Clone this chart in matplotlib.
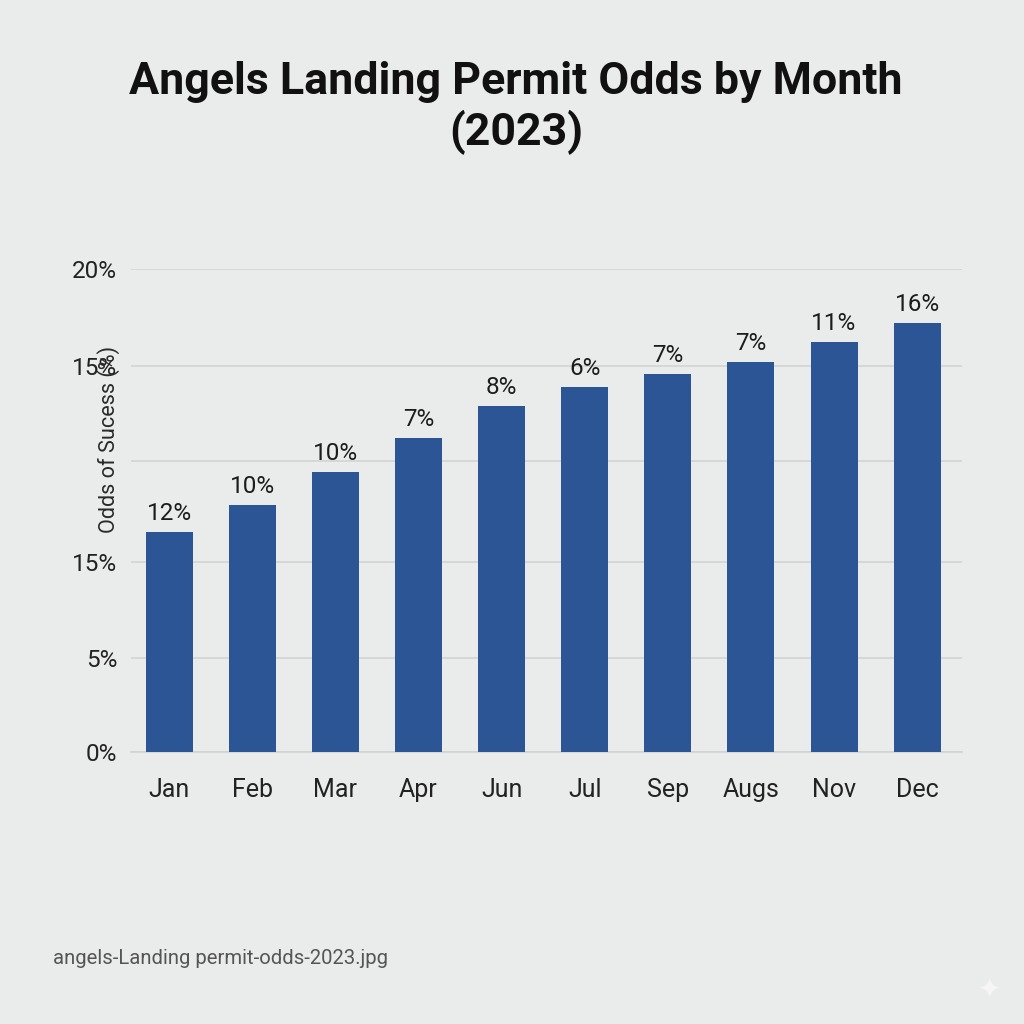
import matplotlib
matplotlib.use("Agg")
import matplotlib.pyplot as plt

months = ["Jan", "Feb", "Mar", "Apr", "Jun", "Jul", "Sep", "Augs", "Nov", "Dec"]
values = [9.11, 10.23, 11.59, 13.0, 14.33, 15.11, 15.65, 16.15, 16.97, 17.76]
bar_labels = ["12%", "10%", "10%", "7%", "8%", "6%", "7%", "7%", "11%", "16%"]
tick_values = [0, 3.9, 7.88, 12.03, 16.0, 20]
tick_labels = ["0%", "5%", "15%", "", "15%", "20%"]

BG = "#eaebeb"
plt.rcParams["font.family"] = ["Roboto", "DejaVu Sans"]
fig = plt.figure(figsize=(10.24, 10.24), dpi=100, facecolor=BG)
ax = fig.add_axes([131/1024, 1-752/1024, (962-131)/1024, (752-269)/1024], facecolor=BG)

x = range(len(months))
ax.bar(x, values, width=0.565, color="#2c5596", zorder=3)
for i, (v, s) in enumerate(zip(values, bar_labels)):
    ax.annotate(s, (i, v), xytext=(0, 5), textcoords="offset points", ha="center", va="bottom",
                fontsize=17.5, color="#1c1c1c")

ax.set_xlim(-0.46, 9.54)
ax.set_ylim(0, 20)
ax.set_xticks(list(x), months, fontsize=18, color="#222222")
ax.set_yticks(tick_values, tick_labels, fontsize=17.5, color="#222222")
ax.tick_params(axis="both", length=0)
ax.tick_params(axis="x", pad=19)
ax.tick_params(axis="y", pad=10)
ax.grid(axis="y", color="#d0d1d1", linewidth=1.1, zorder=0)
ax.set_axisbelow(True)
for side in ["top", "right", "left"]:
    ax.spines[side].set_visible(False)
ax.spines["bottom"].set_color("#d0d1d1")
ax.spines["bottom"].set_linewidth(1.1)

fig.text(109/1024, 1-439/1024, "Odds of Sucess (%)", rotation=90, ha="center", va="center",
         fontsize=15.6, color="#2a2a2a")
fig.text(516/1024, 1-108/1024, "Angels Landing Permit Odds by Month\n(2023)", ha="center", va="center",
         fontsize=32.2, fontweight="bold", color="#111111", linespacing=1.22)
fig.text(53/1024, 1-958/1024, "angels-Landing permit-odds-2023.jpg", ha="left", va="center",
         fontsize=14.6, color="#555555")
fig.text(989/1024, 1-989/1024, "\u2726", ha="center", va="center", fontsize=20,
         family=["DejaVu Sans"], color="#f6f6f6")
fig.savefig("out.png", dpi=100, facecolor=BG)
